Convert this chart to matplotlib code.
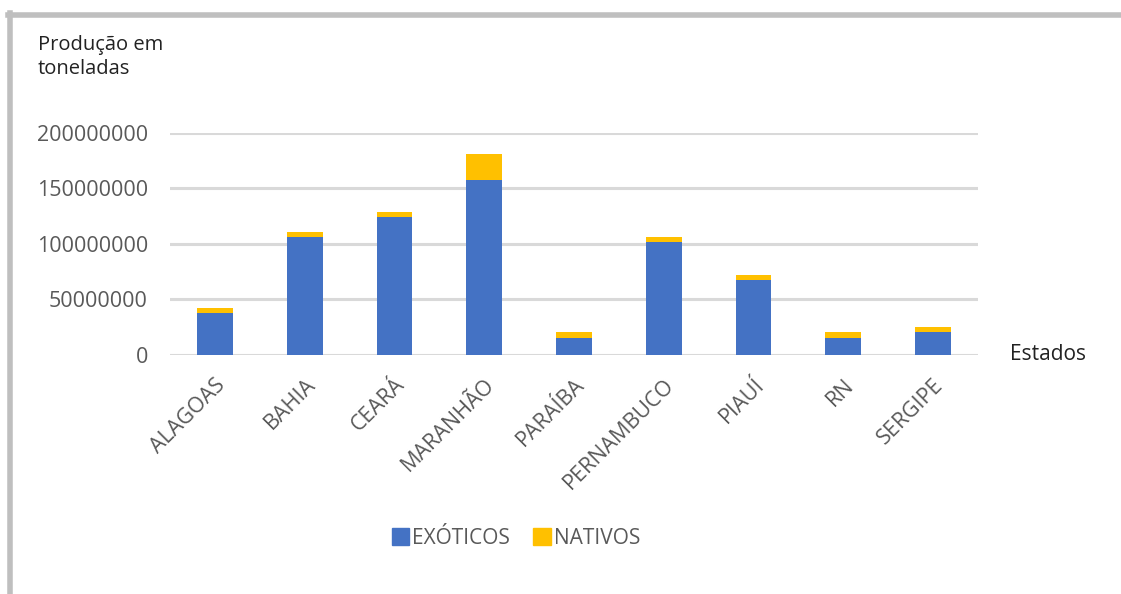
import matplotlib
matplotlib.use("Agg")
import matplotlib.pyplot as plt
from matplotlib.lines import Line2D
from matplotlib.patches import Patch
import numpy as np

states = ["ALAGOAS", "BAHIA", "CEARÁ", "MARANHÃO", "PARAÍBA", "PERNAMBUCO", "PIAUÍ", "RN", "SERGIPE"]
exoticos = [38200000, 105900000, 124300000, 157700000, 15600000, 101400000, 67400000, 15600000, 20800000]
nativos = [4500000, 4800000, 4700000, 23700000, 4900000, 4800000, 4800000, 4900000, 4700000]
yticks = [0, 50000000, 100000000, 150000000, 200000000]

plt.rcParams['font.family'] = ['Open Sans', 'DejaVu Sans']

fig = plt.figure(figsize=(11.21, 5.94), dpi=100)
ax = fig.add_axes([0.1517, 0.4024, 0.7207, 0.3737])

x = np.arange(len(states))
blue = "#4472C4"
yellow = "#FFC000"
ax.bar(x, exoticos, width=0.4, color=blue, zorder=3)
ax.bar(x, nativos, width=0.4, bottom=exoticos, color=yellow, zorder=3)

ax.set_xlim(-0.5, len(states) - 0.5)
ax.set_ylim(0, 200000000)
ax.set_yticks(yticks)
ax.set_yticklabels([str(v) for v in yticks], fontsize=15.5, color="#595959")
ax.yaxis.grid(True, color="#d9d9d9", linewidth=2.2, zorder=0)
ax.set_axisbelow(True)
for s in ax.spines.values():
    s.set_visible(False)
ax.tick_params(axis="both", length=0)
ax.tick_params(axis="y", pad=16)
ax.set_xticks(x)
ax.set_xticklabels(states, rotation=45, ha="right", rotation_mode="anchor",
                   fontsize=15.5, color="#595959")
ax.tick_params(axis="x", pad=14)

fig.text(38 / 1121, 1 - 57 / 594, "Produção em\ntoneladas", fontsize=14.5,
         color="#222222", va="center", ha="left", linespacing=1.25)
fig.text(1010 / 1121, 1 - 354 / 594, "Estados", fontsize=15, color="#222222",
         va="center", ha="left")

handles = [Patch(color=blue, label="EXÓTICOS"), Patch(color=yellow, label="NATIVOS")]
leg = fig.legend(handles=handles, loc="center", bbox_to_anchor=(516 / 1121, 1 - 538 / 594),
                 ncol=2, frameon=False, fontsize=15, handlelength=0.85, handleheight=0.85,
                 handletextpad=0.15, columnspacing=1.1)
for t in leg.get_texts():
    t.set_color("#595959")

# outer gray frame
fig.add_artist(Line2D([8 / 1121, 1], [1 - 15 / 594, 1 - 15 / 594], transform=fig.transFigure,
                      color="#bfbfbf", linewidth=4))
fig.add_artist(Line2D([10 / 1121, 10 / 1121], [0, 1 - 13 / 594], transform=fig.transFigure,
                      color="#bfbfbf", linewidth=4))

fig.savefig("out.png", dpi=100, facecolor="white")
